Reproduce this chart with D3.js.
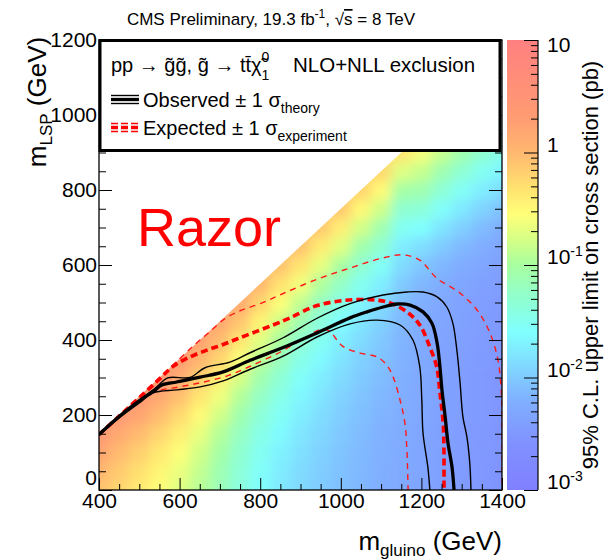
<!DOCTYPE html>
<html>
<head>
<meta charset="utf-8">
<script src="https://cdn.jsdelivr.net/npm/d3@7"></script>
<style>
  body { margin: 0; background: #fff; }
  svg { display: block; font-family: "Liberation Sans", Arial, Helvetica, sans-serif; }
</style>
</head>
<body>
<svg id="chart" width="612" height="560"></svg>
<script>
// ---- Grid of 95% CL upper limits, log10(sigma / pb), one column per gluino mass,
// ---- rows are LSP masses 0, 50, 100, ... up to the kinematic edge
const gluinoMass = [400, 450, 500, 550, 600, 650, 700, 750, 800, 850, 900,
                    950, 1000, 1050, 1100, 1150, 1200, 1250, 1300, 1350, 1400];
const binSize = 50;
const limitLog10 = [
  [-0.10, 0.02, 0.20, 0.40],
  [-0.22, -0.14, -0.02, 0.15, 0.38],
  [-0.38, -0.30, -0.18, -0.02, 0.20, 0.42],
  [-0.55, -0.48, -0.37, -0.22, -0.03, 0.17, 0.38],
  [-0.72, -0.66, -0.56, -0.42, -0.25, -0.06, 0.13, 0.33],
  [-0.92, -0.87, -0.79, -0.67, -0.52, -0.35, -0.16, 0.03, 0.23],
  [-1.15, -1.11, -1.04, -0.94, -0.80, -0.63, -0.43, -0.22, -0.02, 0.17],
  [-1.40, -1.36, -1.30, -1.21, -1.09, -0.94, -0.77, -0.58, -0.34, -0.10, 0.14],
  [-1.60, -1.57, -1.52, -1.45, -1.35, -1.23, -1.08, -0.90, -0.70, -0.46, -0.22, 0.00],
  [-1.78, -1.75, -1.70, -1.63, -1.55, -1.45, -1.33, -1.18, -1.00, -0.80, -0.56, -0.32, -0.08],
  [-1.90, -1.88, -1.84, -1.79, -1.73, -1.66, -1.57, -1.45, -1.29, -1.10, -0.88, -0.61, -0.34, -0.08],
  [-2.00, -1.98, -1.95, -1.91, -1.86, -1.80, -1.73, -1.64, -1.52, -1.37, -1.18, -0.96, -0.68, -0.40, -0.13],
  [-2.08, -2.07, -2.05, -2.02, -1.98, -1.94, -1.88, -1.81, -1.72, -1.60, -1.44, -1.24, -1.00, -0.71, -0.42, -0.13],
  [-2.15, -2.14, -2.13, -2.11, -2.08, -2.05, -2.00, -1.95, -1.88, -1.79, -1.67, -1.50, -1.30, -1.07, -0.79, -0.50, -0.21],
  [-2.22, -2.21, -2.20, -2.19, -2.17, -2.14, -2.10, -2.06, -2.01, -1.95, -1.86, -1.72, -1.54, -1.32, -1.09, -0.81, -0.52, -0.24],
  [-2.28, -2.27, -2.26, -2.25, -2.24, -2.22, -2.20, -2.18, -2.16, -2.13, -2.08, -2.00, -1.88, -1.72, -1.52, -1.30, -1.03, -0.72, -0.35],
  [-2.34, -2.33, -2.33, -2.32, -2.31, -2.30, -2.29, -2.28, -2.27, -2.25, -2.21, -2.14, -2.03, -1.85, -1.60, -1.35, -1.10, -0.85, -0.60],
  [-2.40, -2.40, -2.39, -2.39, -2.38, -2.38, -2.37, -2.36, -2.35, -2.33, -2.30, -2.24, -2.15, -2.00, -1.80, -1.57, -1.33, -1.10, -0.85],
  [-2.45, -2.45, -2.44, -2.44, -2.43, -2.43, -2.42, -2.41, -2.40, -2.38, -2.36, -2.32, -2.25, -2.13, -1.97, -1.77, -1.55, -1.32, -1.08],
  [-2.50, -2.50, -2.49, -2.49, -2.48, -2.48, -2.47, -2.46, -2.45, -2.44, -2.42, -2.39, -2.33, -2.24, -2.11, -1.94, -1.74, -1.52, -1.30],
  [-2.55, -2.55, -2.54, -2.54, -2.53, -2.53, -2.52, -2.51, -2.50, -2.49, -2.47, -2.44, -2.40, -2.32, -2.21, -2.06, -1.88, -1.68, -1.47]
];

// Kinematic edge of the scanned plane (m_gluino, m_LSP)
const kinematicEdge = [[400, 150], [1450, 1200]];

// ---- Exclusion contours (m_gluino, m_LSP) in GeV
const observed = [[400,148],[450,196],[500,238],[534,262],[556,280],[593,288],[651,301],[708,315],
  [775,346],[857,380],[941,419],[1023,459],[1065,475],[1105,488],[1140,496],[1172,493],[1204,475],
  [1226,445],[1239,392],[1246,328],[1251,267],[1259,195],[1266,125],[1276,61],[1281,0]];
const observedUp = [[400,150],[450,198],[500,240],[540,272],[571,299],[626,300],[663,326],[725,341],
  [775,366],[857,406],[941,458],[1023,497],[1105,520],[1164,528],[1204,528],[1239,515],[1263,488],
  [1278,445],[1288,373],[1296,285],[1303,195],[1313,141],[1320,72],[1323,0]];
const observedDown = [[400,146],[450,192],[500,232],[534,259],[593,267],[651,275],[708,291],[775,322],
  [857,357],[941,408],[1023,443],[1090,453],[1147,440],[1179,400],[1196,328],[1201,240],[1204,152],
  [1216,61],[1221,0]];
const expected = [[400,148],[450,197],[500,246],[550,296],[584,330],[626,355],[668,373],[708,388],
  [750,406],[832,440],[874,459],[941,492],[1005,505],[1050,508],[1090,506],[1122,499],[1164,475],
  [1196,440],[1221,381],[1238,328],[1246,259],[1254,179],[1256,107],[1256,0]];
const expectedUp = [[400,150],[450,200],[500,250],[550,300],[600,350],[640,390],[675,422],[710,455],
  [750,478],[800,497],[857,524],[941,562],[1023,592],[1105,619],[1154,627],[1196,613],[1238,565],
  [1296,525],[1338,480],[1370,419],[1390,347],[1398,267],[1400,200],[1400,0]];
const expectedDown = [[400,146],[450,193],[500,234],[540,262],[600,275],[660,288],[720,305],[775,330],
  [850,368],[910,405],[950,428],[970,425],[1005,383],[1048,365],[1090,355],[1114,333],[1130,301],
  [1147,240],[1159,179],[1164,107],[1167,0]];

// ---- Axis ticks
const xMajorTicks = [400, 600, 800, 1000, 1200, 1400];
const yMajorTicks = [0, 200, 400, 600, 800, 1000, 1200];
const zMajorTicks = [1e-3, 1e-2, 1e-1, 1, 10];
const zTickLabels = [["10", "-3"], ["10", "-2"], ["10", "-1"], ["1", ""], ["10", ""]];

// ---- Colour palette (log10 of the limit -> colour)
const paletteLog = [-3, -2.6, -2.2, -1.9, -1.6, -1.3, -1.0, -0.8, -0.55, -0.3, 0, 0.3, 1];
const paletteColor = ["#8080ff", "#8090ff", "#80b0ff", "#80d8ff", "#80ffff", "#90ffd0", "#a8ffa0",
                      "#d0ff88", "#ffff78", "#ffe070", "#ffb870", "#ff9c72", "#ff8080"];

// ====================================================================
const svg = d3.select("#chart");
const plot = { l: 99, r: 502, t: 40, b: 490 };
const cbar = { l: 507, r: 538 };
const font = "'Liberation Sans', Arial, Helvetica, sans-serif";

const x = d3.scaleLinear().domain([400, 1400]).range([plot.l, plot.r]);
const y = d3.scaleLinear().domain([0, 1200]).range([plot.b, plot.t]);
const z = d3.scaleLog().domain([1e-3, 10]).range([plot.b, plot.t]);
const colour = d3.scaleLinear().domain(paletteLog).range(paletteColor).clamp(true);

const defs = svg.append("defs");
defs.append("clipPath").attr("id", "plotClip").append("rect")
  .attr("x", plot.l).attr("y", plot.t).attr("width", plot.r - plot.l).attr("height", plot.b - plot.t);
const edgePoly = [[400, 0], kinematicEdge[0], kinematicEdge[1], [kinematicEdge[1][0], 0]];
defs.append("clipPath").attr("id", "edgeClip").append("path")
  .attr("d", d3.line().x(d => x(d[0])).y(d => y(d[1]))(edgePoly) + "Z");
// soft shading between neighbouring bins of the limit surface
defs.append("filter").attr("id", "smooth").attr("filterUnits", "userSpaceOnUse")
  .attr("x", 40).attr("y", 0).attr("width", 520).attr("height", 560)
  .append("feGaussianBlur").attr("stdDeviation", 6);

// ---- Heat map of the upper limit
const cells = [];
gluinoMass.forEach((mg, i) => limitLog10[i].forEach((v, j) => cells.push({
  mg, ml: j * binSize, v,
  first: i === 0, last: i === gluinoMass.length - 1,
  bottom: j === 0, top: j === limitLog10[i].length - 1
})));
const half = binSize / 2;
// outer bins are drawn a little past the frame / edge so the shading stays even up to the border
svg.append("g").attr("clip-path", "url(#plotClip)")
  .append("g").attr("clip-path", "url(#edgeClip)")
  .append("g").attr("filter", "url(#smooth)")
  .selectAll("rect").data(cells).join("rect")
  .attr("x", d => x(d.mg - half - (d.first ? binSize : 0)))
  .attr("y", d => y(d.ml + half + (d.top ? binSize : 0)))
  .attr("width", d => x(d.mg + half + (d.last ? binSize : 0)) - x(d.mg - half - (d.first ? binSize : 0)) + 0.6)
  .attr("height", d => y(d.ml - half - (d.bottom ? binSize : 0)) - y(d.ml + half + (d.top ? binSize : 0)) + 0.6)
  .attr("fill", d => colour(d.v));

// ---- Contours
const line = d3.line().x(d => x(d[0])).y(d => y(d[1])).curve(d3.curveCatmullRom.alpha(0.5));
const contours = [
  { data: expectedUp,   stroke: "#ff1a1a", width: 1.4, dash: "6,5" },
  { data: expectedDown, stroke: "#ff1a1a", width: 1.4, dash: "6,5" },
  { data: expected,     stroke: "#ff0000", width: 3.6, dash: "7,4" },
  { data: observedUp,   stroke: "#000",    width: 1.4, dash: null },
  { data: observedDown, stroke: "#000",    width: 1.4, dash: null },
  { data: observed,     stroke: "#000",    width: 3.3, dash: null }
];
svg.append("g").attr("clip-path", "url(#plotClip)")
  .selectAll("path").data(contours).join("path")
  .attr("d", d => line(d.data))
  .attr("fill", "none")
  .attr("stroke", d => d.stroke)
  .attr("stroke-width", d => d.width)
  .attr("stroke-dasharray", d => d.dash);

// ---- Axes (ticks point into the frame)
function styleAxis(g) {
  g.select(".domain").remove();
  g.selectAll(".tick line").attr("stroke", "#000").attr("stroke-width", 1);
  g.selectAll("text").attr("font-family", font).attr("font-size", 21).attr("fill", "#000");
}
const xMinor = d3.range(400, 1401, 50).filter(v => !xMajorTicks.includes(v));
const yMinor = d3.range(0, 1201, 50).filter(v => !yMajorTicks.includes(v));

svg.append("g").attr("transform", `translate(0,${plot.b})`)
  .call(d3.axisBottom(x).tickValues(xMinor).tickSize(-6).tickFormat("")).call(styleAxis);
svg.append("g").attr("transform", `translate(0,${plot.b})`)
  .call(d3.axisBottom(x).tickValues(xMajorTicks).tickSize(-12).tickPadding(3).tickFormat(d3.format("d")))
  .call(styleAxis);

svg.append("g").attr("transform", `translate(${plot.l},0)`)
  .call(d3.axisLeft(y).tickValues(yMinor).tickSize(-7).tickFormat("")).call(styleAxis);
const yAxis = svg.append("g").attr("transform", `translate(${plot.l},0)`)
  .call(d3.axisLeft(y).tickValues(yMajorTicks).tickSize(-13).tickPadding(2).tickFormat(d3.format("d")))
  .call(styleAxis);
yAxis.selectAll(".tick text").filter(d => d === 0).attr("dy", "-0.25em");

svg.append("g").attr("transform", `translate(${plot.r},0)`)
  .call(d3.axisRight(y).tickValues(yMinor).tickSize(-7).tickFormat("")).call(styleAxis);
svg.append("g").attr("transform", `translate(${plot.r},0)`)
  .call(d3.axisRight(y).tickValues(yMajorTicks).tickSize(-13).tickFormat("")).call(styleAxis);

// frame
svg.append("rect").attr("x", plot.l).attr("y", plot.t)
  .attr("width", plot.r - plot.l).attr("height", plot.b - plot.t)
  .attr("fill", "none").attr("stroke", "#000").attr("stroke-width", 1.3);

// ---- Legend box
const leg = svg.append("g").attr("font-family", font).attr("fill", "#000");
leg.append("rect").attr("x", 100).attr("y", 40.5).attr("width", 400).attr("height", 110)
  .attr("fill", "#fff").attr("stroke", "#000").attr("stroke-width", 3);

const t1 = leg.append("text").attr("x", 111).attr("y", 72).attr("font-size", 20);
t1.append("tspan").text("pp \u2192 g\u0303g\u0303, g\u0303 \u2192 tt\u0304\u03c7\u0303");
t1.append("tspan").attr("font-size", 14).attr("dy", -10).text("0");
t1.append("tspan").attr("font-size", 14).attr("dx", -8).attr("dy", 18).text("1");
leg.append("text").attr("x", 293).attr("y", 72).attr("font-size", 20.5).text("NLO+NLL exclusion");

// legend samples
const sampleX = [111, 139];
[[95.5, 1.4], [99.5, 3.3], [103.5, 1.4]].forEach(([yy, w]) =>
  leg.append("line").attr("x1", sampleX[0]).attr("x2", sampleX[1]).attr("y1", yy).attr("y2", yy)
    .attr("stroke", "#000").attr("stroke-width", w));
[[123.5, 1.6], [127.5, 3.6], [131.5, 1.6]].forEach(([yy, w]) =>
  leg.append("line").attr("x1", sampleX[0]).attr("x2", sampleX[1]).attr("y1", yy).attr("y2", yy)
    .attr("stroke", "#ff0000").attr("stroke-width", w).attr("stroke-dasharray", "7,3"));

const t2 = leg.append("text").attr("x", 143).attr("y", 107).attr("font-size", 20);
t2.append("tspan").text("Observed \u00b1 1 \u03c3");
t2.append("tspan").attr("font-size", 14).attr("dy", 6).text("theory");
const t3 = leg.append("text").attr("x", 143).attr("y", 135).attr("font-size", 20);
t3.append("tspan").text("Expected \u00b1 1 \u03c3");
t3.append("tspan").attr("font-size", 14).attr("dy", 6).text("experiment");

// ---- Analysis label
svg.append("text").attr("x", 137).attr("y", 246).attr("font-family", font)
  .attr("font-size", 54).attr("fill", "#ff0000").text("Razor");

// ---- Title
const title = svg.append("text").attr("x", 271).attr("y", 25).attr("text-anchor", "middle")
  .attr("font-family", font).attr("font-size", 17).attr("fill", "#000");
title.append("tspan").text("CMS Preliminary, 19.3 fb");
title.append("tspan").attr("font-size", 12).attr("dy", -7).text("-1");
title.append("tspan").attr("dy", 7).text(", \u221a");
title.append("tspan").style("text-decoration", "overline").text("s");
title.append("tspan").text(" = 8 TeV");

// ---- Axis titles
const xt = svg.append("text").attr("x", plot.r).attr("y", 550).attr("text-anchor", "end")
  .attr("font-family", font).attr("font-size", 26).attr("fill", "#000");
xt.append("tspan").text("m");
xt.append("tspan").attr("font-size", 17).attr("dy", 6).text("gluino");
xt.append("tspan").attr("dy", -6).text(" (GeV)");

const yt = svg.append("text").attr("transform", "translate(46,102) rotate(-90)").attr("text-anchor", "middle")
  .attr("font-family", font).attr("font-size", 26).attr("fill", "#000");
yt.append("tspan").text("m");
yt.append("tspan").attr("font-size", 17).attr("dy", 6).text("LSP");
yt.append("tspan").attr("dy", -6).text(" (GeV)");

// ---- Colour bar
const grad = defs.append("linearGradient").attr("id", "cbarGrad")
  .attr("x1", 0).attr("y1", 1).attr("x2", 0).attr("y2", 0);
paletteLog.forEach((v, i) => grad.append("stop")
  .attr("offset", (v + 3) / 4).attr("stop-color", paletteColor[i]));
svg.append("rect").attr("x", cbar.l).attr("y", plot.t).attr("width", cbar.r - cbar.l)
  .attr("height", plot.b - plot.t).attr("fill", "url(#cbarGrad)");

const zMinor = [];
[1e-3, 1e-2, 1e-1, 1].forEach(dec => { for (let k = 2; k <= 9; k++) zMinor.push(k * dec); });
svg.append("g").attr("transform", `translate(${cbar.r},0)`)
  .call(d3.axisRight(z).tickValues(zMinor).tickSize(-7).tickFormat("")).call(styleAxis);
svg.append("g").attr("transform", `translate(${cbar.r},0)`)
  .call(d3.axisRight(z).tickValues(zMajorTicks).tickSize(-14).tickFormat("")).call(styleAxis);
svg.append("line").attr("x1", cbar.r).attr("x2", cbar.r).attr("y1", plot.t).attr("y2", plot.b)
  .attr("stroke", "#000").attr("stroke-width", 1.2);

const zl = svg.append("g").attr("font-family", font).attr("fill", "#000");
zMajorTicks.forEach((v, i) => {
  const yy = Math.max(z(v) - 1, plot.t + 12);
  const t = zl.append("text").attr("x", cbar.r + 9).attr("y", yy).attr("font-size", 21);
  t.append("tspan").text(zTickLabels[i][0]);
  if (zTickLabels[i][1]) t.append("tspan").attr("font-size", 14).attr("dy", -8).text(zTickLabels[i][1]);
});

svg.append("text").attr("transform", `translate(598,${(plot.t + plot.b) / 2}) rotate(-90)`)
  .attr("text-anchor", "middle").attr("font-family", font).attr("font-size", 22).attr("fill", "#000")
  .text("95% C.L. upper limit on cross section (pb)");
</script>
</body>
</html>
